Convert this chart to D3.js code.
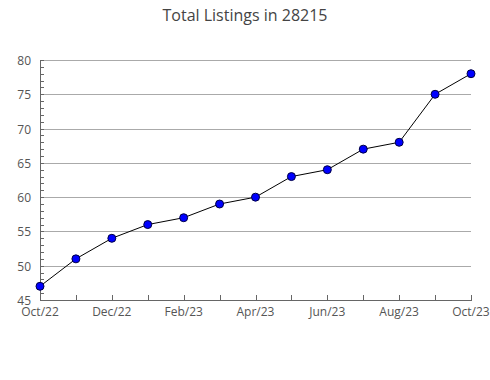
<!DOCTYPE html>
<html>
<head>
<meta charset="utf-8">
<script src="https://cdn.jsdelivr.net/npm/d3@7"></script>
<style>
  body { margin: 0; background: #fff; }
  text { font-family: "Open Sans", "Noto Sans", sans-serif; }
</style>
</head>
<body>
<svg id="chart" width="490" height="380"></svg>
<script>
const months = ['Oct/22', 'Nov/22', 'Dec/22', 'Jan/23', 'Feb/23', 'Mar/23', 'Apr/23',
  'May/23', 'Jun/23', 'Jul/23', 'Aug/23', 'Sep/23', 'Oct/23'];
const listings = [47, 51, 54, 56, 57, 59, 60, 63, 64, 67, 68, 75, 78];
const yTicks = [45, 50, 55, 60, 65, 70, 75, 80];

const svg = d3.select('#chart'),
  margin = { top: 60, right: 19, bottom: 80, left: 40 },
  width = 490 - margin.left - margin.right,
  height = 380 - margin.top - margin.bottom;

svg.append('text')
  .attr('x', 245)
  .attr('y', 21)
  .attr('text-anchor', 'middle')
  .attr('font-size', '16px')
  .attr('fill', '#444')
  .text('Total Listings in 28215');

const g = svg.append('g').attr('transform', `translate(${margin.left},${margin.top})`);

const x = d3.scalePoint().domain(months).range([0, width]);
const y = d3.scaleLinear().domain([45, 80]).range([height, 0]);

// grid lines
g.selectAll('.grid')
  .data(yTicks.slice(1))
  .join('line')
  .attr('x1', 0)
  .attr('x2', width)
  .attr('y1', d => Math.round(y(d)) + 0.5)
  .attr('y2', d => Math.round(y(d)) + 0.5)
  .attr('stroke', '#aaa')
  .attr('stroke-width', 1);

// minor y ticks every unit, pointing inside
g.selectAll('.ytick')
  .data(d3.range(45, 81))
  .join('line')
  .attr('x1', 0)
  .attr('x2', 4)
  .attr('y1', d => Math.round(y(d)) + 0.5)
  .attr('y2', d => Math.round(y(d)) + 0.5)
  .attr('stroke', '#666');

g.selectAll('.ylab')
  .data(yTicks)
  .join('text')
  .attr('x', -9)
  .attr('y', d => y(d) + 5)
  .attr('text-anchor', 'end')
  .attr('font-size', '12px')
  .attr('fill', '#555')
  .text(d => d);

// x ticks pointing up
g.selectAll('.xtick')
  .data(months)
  .join('line')
  .attr('x1', d => Math.round(x(d)) + 0.5)
  .attr('x2', d => Math.round(x(d)) + 0.5)
  .attr('y1', height - 5)
  .attr('y2', height)
  .attr('stroke', '#666');

g.selectAll('.xlab')
  .data(months.filter((m, i) => i % 2 === 0))
  .join('text')
  .attr('x', d => x(d))
  .attr('y', height + 16)
  .attr('text-anchor', 'middle')
  .attr('font-size', '12px')
  .attr('fill', '#555')
  .text(d => d);

// axis lines
g.append('line')
  .attr('x1', 0.5).attr('x2', 0.5)
  .attr('y1', 0).attr('y2', height + 1)
  .attr('stroke', '#666');
g.append('line')
  .attr('x1', 0).attr('x2', width + 1)
  .attr('y1', height + 0.5).attr('y2', height + 0.5)
  .attr('stroke', '#666');

// series
const line = d3.line()
  .x((d, i) => x(months[i]))
  .y(d => y(d));

g.append('path')
  .datum(listings)
  .attr('d', line)
  .attr('fill', 'none')
  .attr('stroke', '#000')
  .attr('stroke-width', 1);

g.selectAll('.dot')
  .data(listings)
  .join('circle')
  .attr('cx', (d, i) => x(months[i]))
  .attr('cy', d => y(d))
  .attr('r', 4)
  .attr('fill', '#0000ff')
  .attr('stroke', '#000044')
  .attr('stroke-width', 1);
</script>
</body>
</html>
